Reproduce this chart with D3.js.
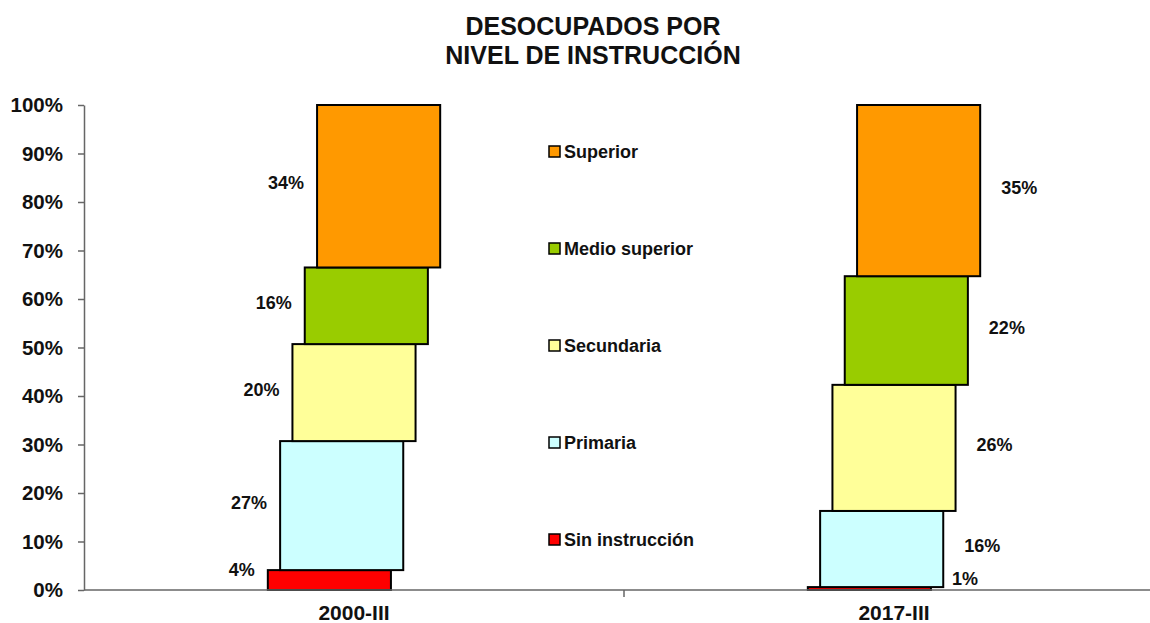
<!DOCTYPE html>
<html>
<head>
<meta charset="utf-8">
<script src="https://cdn.jsdelivr.net/npm/d3@7"></script>
<style>
  body { margin: 0; background: #fff; }
  text { font-family: "Liberation Sans", Arial, sans-serif; font-weight: bold; fill: #111; }
</style>
</head>
<body>
<svg id="chart" width="1150" height="623"></svg>
<script>
// datos
const categories = ["2000-III", "2017-III"]
const seriesNames = ["Sin instrucción", "Primaria", "Secundaria", "Medio superior", "Superior"]
const sinInstruccion = [4.1, 0.6]
const primaria = [26.6, 15.7]
const secundaria = [20.0, 26.0]
const medioSuperior = [15.8, 22.4]
const superior = [33.5, 35.3]
const yTicks = [0, 10, 20, 30, 40, 50, 60, 70, 80, 90, 100]
const colors = ["#ff0000", "#ccffff", "#ffff99", "#99cc00", "#ff9900"]

const seriesValues = [sinInstruccion, primaria, secundaria, medioSuperior, superior]
let rows = categories.map(function (c, i) {
    let r = { cat: c }
    seriesNames.forEach(function (s, j) { r[s] = seriesValues[j][i] })
    return r
})

let svg = d3.select("#chart")
let plotLeft = 84, plotRight = 1164, plotTop = 105, plotBottom = 590

let x = d3.scaleBand().domain(categories).range([plotLeft, plotRight])
let y = d3.scaleLinear().domain([0, 100]).range([plotBottom, plotTop])
let color = d3.scaleOrdinal().domain(seriesNames).range(colors)

let stacked = d3.stack().keys(seriesNames)(rows)

let segW = x.bandwidth() * 0.228
let shift = segW * 0.1

// titulo
svg.append("text").attr("x", 593).attr("y", 35).attr("text-anchor", "middle")
    .style("font-size", "25px").text("DESOCUPADOS POR")
svg.append("text").attr("x", 593).attr("y", 64).attr("text-anchor", "middle")
    .style("font-size", "25px").text("NIVEL DE INSTRUCCIÓN")

// eje y
let yAxis = svg.append("g")
    .attr("transform", "translate(" + plotLeft + ",0)")
    .call(d3.axisLeft(y).tickValues(yTicks).tickSize(6).tickSizeOuter(0).tickPadding(15)
        .tickFormat(function (d) { return d + "%" }))
yAxis.select(".domain").attr("stroke", "#666").attr("stroke-width", 1.5)
yAxis.selectAll(".tick line").attr("stroke", "#666").attr("stroke-width", 1.5)
yAxis.selectAll(".tick text").style("font-size", "20.5px").style("font-family", "Liberation Sans, Arial, sans-serif")
    .style("font-weight", "bold").attr("fill", "#111")

// barras
stacked.forEach(function (layer, k) {
    let g = svg.append("g")
    g.selectAll("rect")
        .data(layer)
        .enter()
        .append("rect")
        .attr("x", function (d) { return x(d.data.cat) + x.bandwidth() / 2 - segW / 2 + (k - 2) * shift })
        .attr("y", function (d) { return y(d[1]) })
        .attr("width", segW)
        .attr("height", function (d) { return y(d[0]) - y(d[1]) })
        .attr("fill", color(layer.key))
        .attr("stroke", "#000")
        .attr("stroke-width", 2)

    // etiquetas: a la izquierda en la primera barra, a la derecha en la segunda
    g.selectAll("text")
        .data(layer)
        .enter()
        .append("text")
        .attr("x", function (d, i) {
            let x0 = x(d.data.cat) + x.bandwidth() / 2 - segW / 2 + (k - 2) * shift
            return i == 0 ? x0 - 13 : x0 + segW + 21
        })
        .attr("y", function (d) {
            let mid = (y(d[0]) + y(d[1])) / 2
            return (y(d[0]) - y(d[1])) < 25 ? mid - 10 : mid - 3
        })
        .attr("dominant-baseline", "central")
        .attr("text-anchor", function (d, i) { return i == 0 ? "end" : "start" })
        .style("font-size", "18px")
        .text(function (d) { return Math.round(d[1] - d[0]) + "%" })
})

// eje x
svg.append("line").attr("x1", plotLeft).attr("x2", plotRight).attr("y1", plotBottom).attr("y2", plotBottom)
    .attr("stroke", "#666").attr("stroke-width", 1.5)
svg.append("line").attr("x1", x(categories[1])).attr("x2", x(categories[1]))
    .attr("y1", plotBottom).attr("y2", plotBottom + 7)
    .attr("stroke", "#666").attr("stroke-width", 1.5)
svg.selectAll(".cat")
    .data(categories)
    .enter()
    .append("text")
    .attr("class", "cat")
    .attr("x", function (d) { return x(d) + x.bandwidth() / 2 })
    .attr("y", 620)
    .attr("text-anchor", "middle")
    .style("font-size", "21px")
    .text(function (d) { return d })

// leyenda
let legend = svg.append("g").attr("transform", "translate(549,146)")
let legendItems = seriesNames.slice().reverse()
legendItems.forEach(function (s, i) {
    let row = legend.append("g").attr("transform", "translate(0," + (i * 97) + ")")
    row.append("rect").attr("width", 11).attr("height", 11)
        .attr("fill", color(s)).attr("stroke", "#000").attr("stroke-width", 1.5)
    row.append("text").attr("x", 15).attr("y", 6).attr("dominant-baseline", "central")
        .style("font-size", "18px").text(s)
})
</script>
</body>
</html>
